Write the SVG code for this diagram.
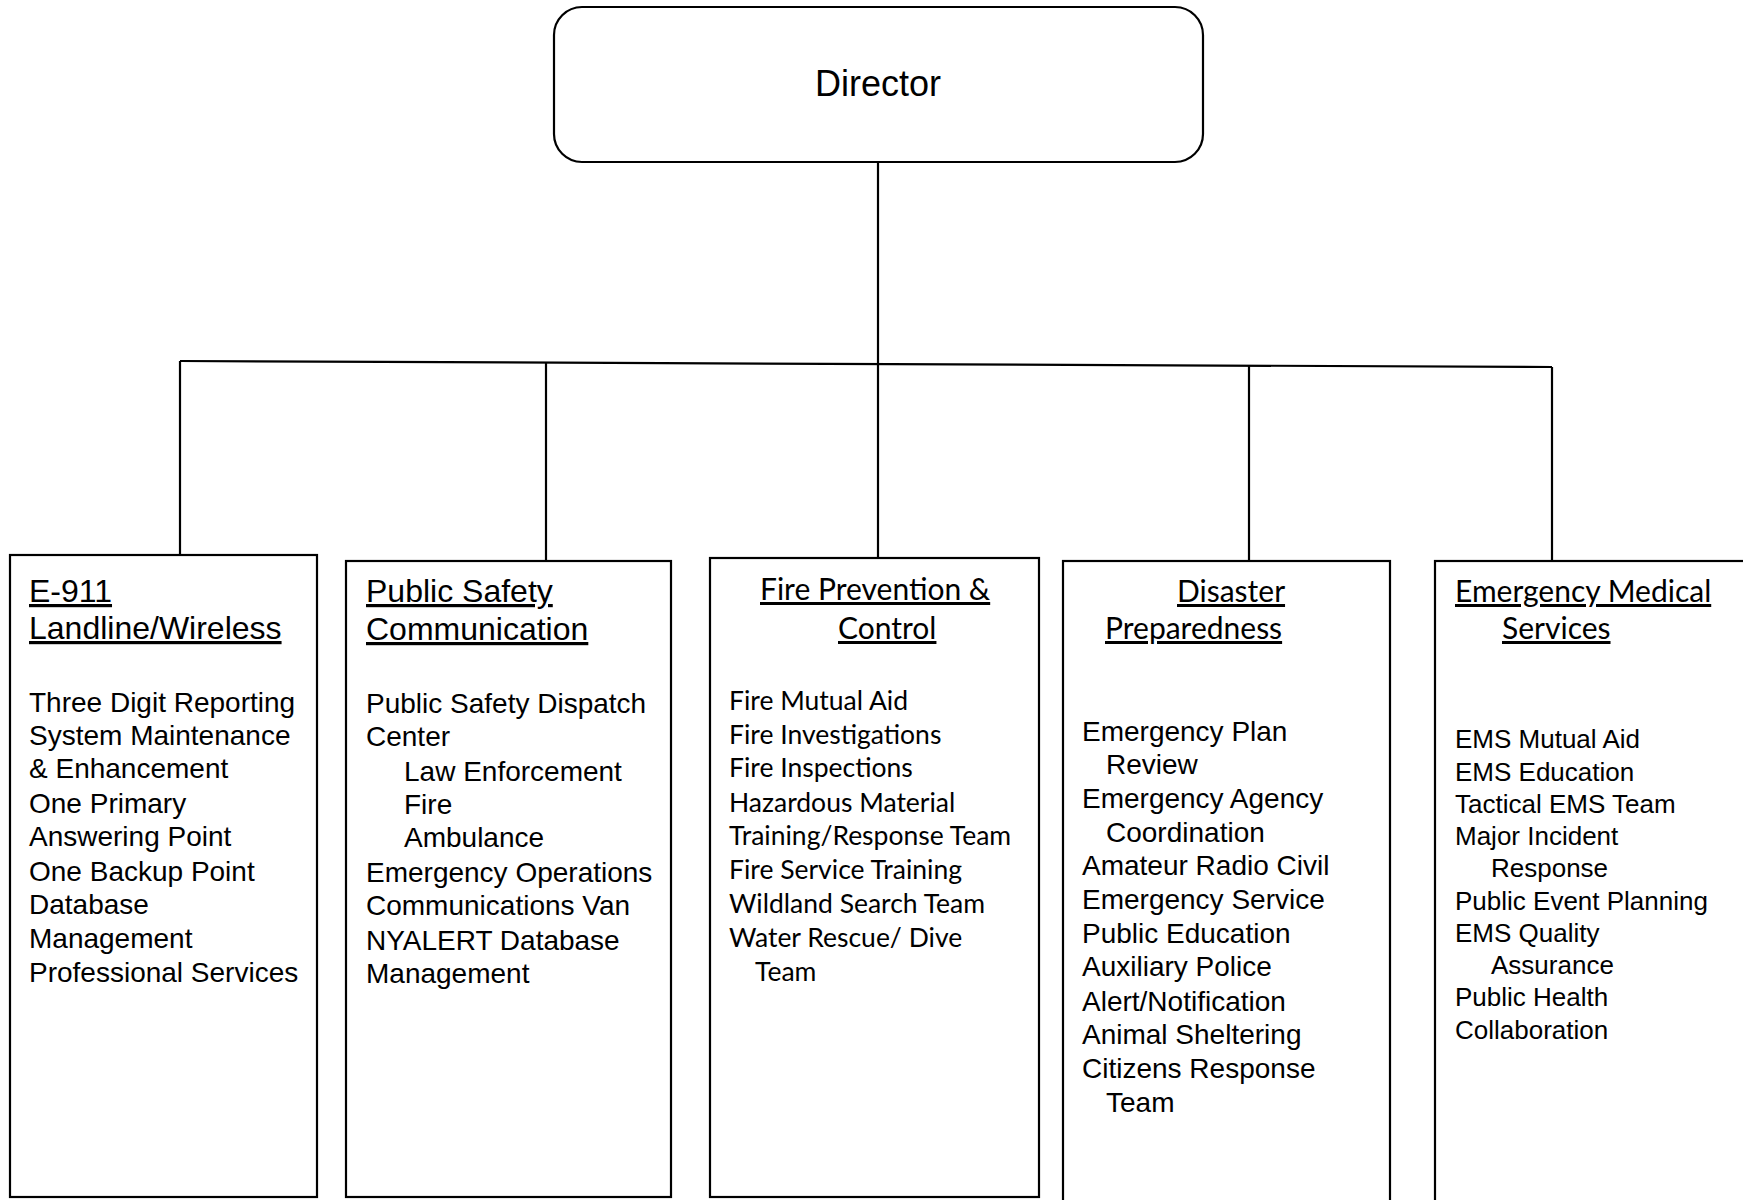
<svg xmlns="http://www.w3.org/2000/svg" width="1743" height="1200" viewBox="0 0 1743 1200">
<style>
.box{fill:#fff;stroke:#000;stroke-width:2.2}
.ln{fill:none;stroke:#000;stroke-width:2.2}
.a{font-family:"Liberation Sans",Arial,sans-serif;font-size:28px;fill:#000}
.at{font-family:"Liberation Sans",Arial,sans-serif;font-size:32px;fill:#000;text-decoration:underline}
.c{font-family:Lato,"Open Sans",sans-serif;font-size:26.5px;fill:#000}
.ct{font-family:Lato,"Open Sans",sans-serif;font-size:30px;fill:#000;text-decoration:underline}
.e{font-family:"Liberation Sans",Arial,sans-serif;font-size:26px;fill:#000}
</style>
<rect width="1743" height="1200" fill="#fff"/>
<g id="connectors">
<line class="ln" x1="878" y1="162" x2="878" y2="363"/>
<line class="ln" x1="180" y1="361" x2="1552" y2="367"/>
<line class="ln" x1="180" y1="361" x2="180" y2="555"/>
<line class="ln" x1="546" y1="363" x2="546" y2="561"/>
<line class="ln" x1="878" y1="363" x2="878" y2="560"/>
<line class="ln" x1="1249" y1="365" x2="1249" y2="561"/>
<line class="ln" x1="1552" y1="367" x2="1552" y2="561"/>
</g>
<g id="director">
<rect class="box" x="554" y="7" width="649" height="155" rx="28" ry="28"/>
<text x="878" y="96" text-anchor="middle" font-family="'Liberation Sans',Arial,sans-serif" font-size="36">Director</text>
</g>
<g id="e911">
<rect class="box" x="10" y="555" width="307" height="642"/>
<text class="at" x="29" y="602">E-911</text>
<text class="at" x="29" y="639">Landline/Wireless</text>
<text class="a" x="29" y="712">Three Digit Reporting</text>
<text class="a" x="29" y="745">System Maintenance</text>
<text class="a" x="29" y="778">&amp; Enhancement</text>
<text class="a" x="29" y="813">One Primary</text>
<text class="a" x="29" y="846">Answering Point</text>
<text class="a" x="29" y="881">One Backup Point</text>
<text class="a" x="29" y="914">Database</text>
<text class="a" x="29" y="948">Management</text>
<text class="a" x="29" y="982">Professional Services</text>
</g>
<g id="public-safety">
<rect class="box" x="346" y="561" width="325" height="636"/>
<text class="at" x="366" y="602">Public Safety</text>
<text class="at" x="366" y="640">Communication</text>
<text class="a" x="366" y="713">Public Safety Dispatch</text>
<text class="a" x="366" y="746">Center</text>
<text class="a" x="404" y="781">Law Enforcement</text>
<text class="a" x="404" y="814">Fire</text>
<text class="a" x="404" y="847">Ambulance</text>
<text class="a" x="366" y="882">Emergency Operations</text>
<text class="a" x="366" y="915">Communications Van</text>
<text class="a" x="366" y="950">NYALERT Database</text>
<text class="a" x="366" y="983">Management</text>
</g>
<g id="fire">
<rect class="box" x="710" y="558" width="329" height="639"/>
<text class="ct" x="760" y="600">Fire Prevention &amp;</text>
<text class="ct" x="838" y="639">Control</text>
<text class="c" x="729" y="710">Fire Mutual Aid</text>
<text class="c" x="729" y="744">Fire Investigations</text>
<text class="c" x="729" y="777">Fire Inspections</text>
<text class="c" x="729" y="812">Hazardous Material</text>
<text class="c" x="729" y="845">Training/Response Team</text>
<text class="c" x="729" y="879">Fire Service Training</text>
<text class="c" x="729" y="913">Wildland Search Team</text>
<text class="c" x="729" y="947">Water Rescue/ Dive</text>
<text class="c" x="755" y="981">Team</text>
</g>
<g id="disaster">
<rect class="box" x="1063" y="561" width="327" height="645"/>
<text class="ct" x="1177" y="602">Disaster</text>
<text class="ct" x="1105" y="639">Preparedness</text>
<text class="a" x="1082" y="741">Emergency Plan</text>
<text class="a" x="1106" y="774">Review</text>
<text class="a" x="1082" y="808">Emergency Agency</text>
<text class="a" x="1106" y="842">Coordination</text>
<text class="a" x="1082" y="875">Amateur Radio Civil</text>
<text class="a" x="1082" y="909">Emergency Service</text>
<text class="a" x="1082" y="943">Public Education</text>
<text class="a" x="1082" y="976">Auxiliary Police</text>
<text class="a" x="1082" y="1011">Alert/Notification</text>
<text class="a" x="1082" y="1044">Animal Sheltering</text>
<text class="a" x="1082" y="1078">Citizens Response</text>
<text class="a" x="1106" y="1112">Team</text>
</g>
<g id="ems">
<rect class="box" x="1435" y="561" width="330" height="645"/>
<text class="ct" x="1455" y="602">Emergency Medical</text>
<text class="ct" x="1502" y="639">Services</text>
<text class="e" x="1455" y="748">EMS Mutual Aid</text>
<text class="e" x="1455" y="781">EMS Education</text>
<text class="e" x="1455" y="813">Tactical EMS Team</text>
<text class="e" x="1455" y="845">Major Incident</text>
<text class="e" x="1491" y="877">Response</text>
<text class="e" x="1455" y="910">Public Event Planning</text>
<text class="e" x="1455" y="942">EMS Quality</text>
<text class="e" x="1491" y="974">Assurance</text>
<text class="e" x="1455" y="1006">Public Health</text>
<text class="e" x="1455" y="1039">Collaboration</text>
</g>
</svg>
